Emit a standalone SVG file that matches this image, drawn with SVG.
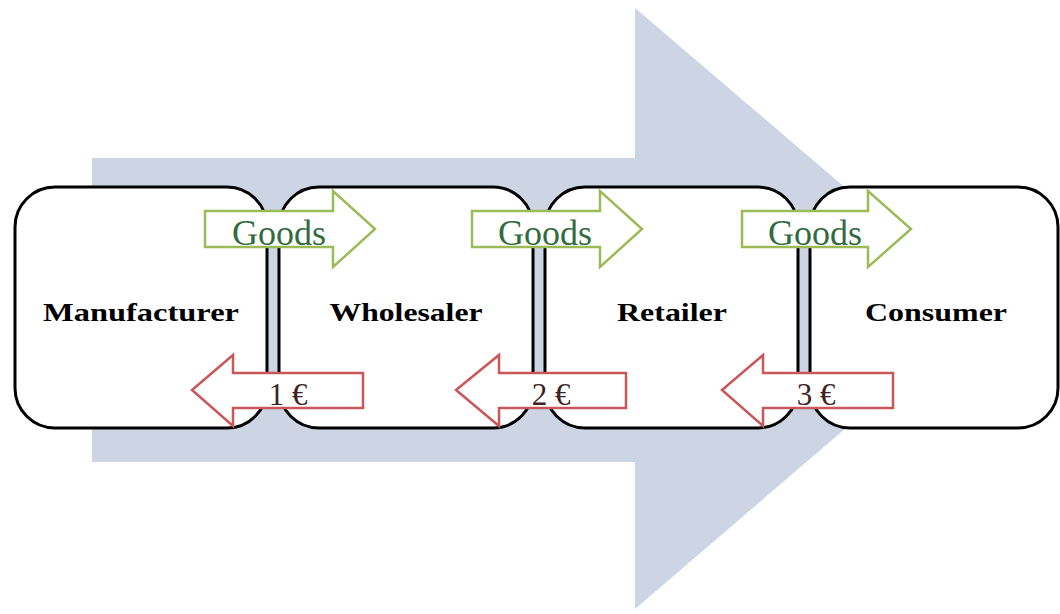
<svg xmlns="http://www.w3.org/2000/svg" width="1060" height="614" viewBox="0 0 1060 614">
  <style>
    .box { fill: #ffffff; stroke: #000000; stroke-width: 3; }
    .label { font-family: "Liberation Serif", "Times New Roman", serif; font-weight: bold; font-size: 26px; fill: #000000; text-anchor: middle; }
    .goods { fill: #ffffff; stroke: #9bbb59; stroke-width: 2.5; stroke-linejoin: miter; }
    .goodsText { font-family: "Liberation Serif", "Times New Roman", serif; font-size: 36px; fill: #336b3f; text-anchor: middle; }
    .money { fill: #ffffff; stroke: #c9575a; stroke-width: 2.5; stroke-linejoin: miter; }
    .moneyText { font-family: "Liberation Serif", "Times New Roman", serif; font-size: 31px; fill: #3d2424; text-anchor: middle; }
  </style>
  <rect width="1060" height="614" fill="#ffffff"/>
  <g id="flow-arrow">
    <polygon points="92,158 635,158 635,8 986,308 635,609 635,462 92,462" fill="#cdd5e4"/>
  </g>
  <g id="manufacturer">
    <rect class="box" x="15" y="187" width="252" height="241" rx="40" ry="40"/>
    <text class="label" x="141" y="321" textLength="196" lengthAdjust="spacingAndGlyphs">Manufacturer</text>
  </g>
  <g id="wholesaler">
    <rect class="box" x="279" y="187" width="254" height="241" rx="40" ry="40"/>
    <text class="label" x="406" y="321" textLength="153" lengthAdjust="spacingAndGlyphs">Wholesaler</text>
  </g>
  <g id="retailer">
    <rect class="box" x="545" y="187" width="253" height="241" rx="40" ry="40"/>
    <text class="label" x="672" y="321" textLength="110" lengthAdjust="spacingAndGlyphs">Retailer</text>
  </g>
  <g id="consumer">
    <rect class="box" x="810" y="187" width="248" height="241" rx="40" ry="40"/>
    <text class="label" x="936" y="321" textLength="142" lengthAdjust="spacingAndGlyphs">Consumer</text>
  </g>
  <g id="connectors">
    <g id="goods-1">
      <polygon class="goods" points="205,211 333,211 333,191 375,229 333,267 333,247 205,247"/>
      <text class="goodsText" x="279" y="245">Goods</text>
    </g>
    <g id="goods-2">
      <polygon class="goods" points="472,211 600,211 600,191 642,229 600,267 600,247 472,247"/>
      <text class="goodsText" x="545" y="245">Goods</text>
    </g>
    <g id="goods-3">
      <polygon class="goods" points="742,211 868,211 868,191 911,229 868,267 868,247 742,247"/>
      <text class="goodsText" x="815" y="245">Goods</text>
    </g>
    <g id="money-1">
      <polygon class="money" points="363,373 363,408 233,408 233,426 192,390 233,355 233,373"/>
      <text class="moneyText" x="288" y="405">1 €</text>
    </g>
    <g id="money-2">
      <polygon class="money" points="626,373 626,408 499,408 499,426 456,390 499,355 499,373"/>
      <text class="moneyText" x="551" y="405">2 €</text>
    </g>
    <g id="money-3">
      <polygon class="money" points="893,373 893,408 763,408 763,426 722,390 763,355 763,373"/>
      <text class="moneyText" x="816" y="405">3 €</text>
    </g>
  </g>
</svg>
